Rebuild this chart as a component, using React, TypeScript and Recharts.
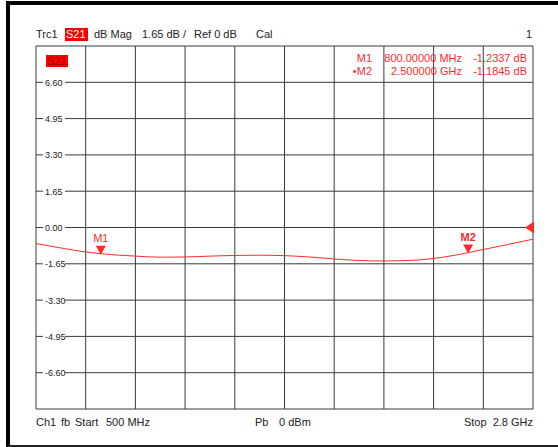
import React from 'react';
import { LineChart, Line, XAxis, YAxis, ReferenceLine, ReferenceDot } from 'recharts';

const freqMHz = [500, 615, 730, 845, 960, 1075, 1190, 1305, 1420, 1535, 1650, 1765, 1880, 1995, 2110, 2225, 2340, 2455, 2570, 2685, 2800];
const s21dB = [-0.73, -0.93, -1.11, -1.23, -1.3, -1.35, -1.34, -1.3, -1.27, -1.26, -1.28, -1.34, -1.43, -1.5, -1.52, -1.5, -1.41, -1.23, -1.0, -0.77, -0.53];

const xTicks = [500, 730, 960, 1190, 1420, 1650, 1880, 2110, 2340, 2570, 2800];
const yTicks = [-8.25, -6.6, -4.95, -3.3, -1.65, 0, 1.65, 3.3, 4.95, 6.6, 8.25];
const yLabels = [-6.6, -4.95, -3.3, -1.65, 0, 1.65, 3.3, 4.95, 6.6];

const markerNames = ['M1', 'M2'];
const markerFreqMHz = [800, 2500];
const markerValues = [-1.2337, -1.1845];
const markerFreqText = ['800.00000 MHz', '2.500000 GHz'];

const refLevel = 0;

const data = freqMHz.map((f, i) => ({ f, v: s21dB[i] }));

const RED = '#ff2a2a';
const TXT = '#222';
const GRID = '#3a3a3a';
const FONT = '"Liberation Sans", Arial, sans-serif';

const yLabelShape = (v: number) => (props: any) => {
  const { cx, cy } = props;
  return (
    <g>
      <rect x={cx + 7} y={cy - 5} width={22} height={10} fill="#fff" />
      <text x={cx + 9} y={cy + 3.5} fontSize={9} fontFamily={FONT} fill={TXT}>
        {v.toFixed(2)}
      </text>
    </g>
  );
};

const markerShape = (name: string, active: boolean) => (props: any) => {
  const { cx, cy } = props;
  return (
    <g>
      <polygon points={`${cx},${cy} ${cx - 5},${cy - 9} ${cx + 5},${cy - 9}`} fill={RED} />
      <text x={cx} y={cy - 13} textAnchor="middle" fontSize={11} fontFamily={FONT} fontWeight={active ? 'bold' : 'normal'} fill={RED}>
        {name}
      </text>
    </g>
  );
};

const refShape = (props: any) => {
  const { cx, cy } = props;
  return <polygon points={`${cx - 8},${cy} ${cx + 1},${cy - 6} ${cx + 1},${cy + 6}`} fill={RED} />;
};

const abs = (x: number, y: number, extra: React.CSSProperties = {}): React.CSSProperties => ({
  position: 'absolute',
  left: x,
  top: y,
  fontFamily: FONT,
  fontSize: 11,
  lineHeight: '13px',
  color: TXT,
  whiteSpace: 'nowrap',
  ...extra,
});

export default function App() {
  return (
    <div style={{ position: 'absolute', left: 0, top: 0, width: 558, height: 447, background: '#fff', overflow: 'hidden' }}>
      <div style={{ position: 'absolute', left: 6, top: 1, width: 600, height: 440, borderLeft: '4px solid #000', borderTop: '4px solid #000', borderBottom: '2px solid #222' }} />
      <div style={{ position: 'absolute', left: 0, top: 0 }}>
        <LineChart width={558} height={447} data={data} margin={{ top: 46, right: 25, bottom: 38, left: 36 }}>
          <XAxis dataKey="f" type="number" domain={[500, 2800]} ticks={xTicks} tick={false} tickLine={false} axisLine={false} height={0} />
          <YAxis type="number" domain={[-8.25, 8.25]} ticks={yTicks} tick={false} tickLine={false} axisLine={false} width={0} />
          {xTicks.map((t) => (
            <ReferenceLine key={'x' + t} x={t} stroke={GRID} strokeWidth={1} />
          ))}
          {yTicks.map((t) => (
            <ReferenceLine key={'y' + t} y={t} stroke={GRID} strokeWidth={1} />
          ))}
          {yLabels.map((v) => (
            <ReferenceDot key={v} x={500} y={v} r={0} shape={yLabelShape(v)} />
          ))}
          <Line dataKey="v" type="monotone" stroke={RED} strokeWidth={1} dot={false} isAnimationActive={false} />
          {markerNames.map((n, i) => (
            <ReferenceDot key={n} x={markerFreqMHz[i]} y={markerValues[i]} r={0} shape={markerShape(n, i === markerNames.length - 1)} />
          ))}
          <ReferenceDot x={2800} y={refLevel} r={0} shape={refShape} />
        </LineChart>
      </div>

      <div style={abs(36, 28)}>Trc1</div>
      <div style={abs(65, 28, { background: '#f00', color: '#fff', padding: '0 1px', width: 21 })}>S21</div>
      <div style={abs(94, 28)}>dB Mag</div>
      <div style={abs(142, 28)}>1.65 dB /</div>
      <div style={abs(194, 28)}>Ref 0 dB</div>
      <div style={abs(256, 28)}>Cal</div>
      <div style={abs(520, 28, { width: 12, textAlign: 'right' })}>1</div>

      <div style={abs(46, 55, { background: '#f00', color: '#900', padding: '0 1px', width: 20, lineHeight: '12px' })}>S21</div>

      {markerNames.map((n, i) => (
        <React.Fragment key={n}>
          <div style={abs(330, 52 + i * 13, { width: 42, textAlign: 'right', color: RED })}>
            {i === markerNames.length - 1 ? '\u2022' : ''}{n}
          </div>
          <div style={abs(370, 52 + i * 13, { width: 92, textAlign: 'right', color: RED })}>{markerFreqText[i]}</div>
          <div style={abs(460, 52 + i * 13, { width: 67, textAlign: 'right', color: RED })}>{markerValues[i].toFixed(4)} dB</div>
        </React.Fragment>
      ))}

      <div style={abs(36, 416)}>Ch1</div>
      <div style={abs(61, 416)}>fb</div>
      <div style={abs(75, 416)}>Start</div>
      <div style={abs(106, 416)}>500 MHz</div>
      <div style={abs(255, 416)}>Pb</div>
      <div style={abs(279, 416)}>0 dBm</div>
      <div style={abs(440, 416, { width: 93, textAlign: 'right' })}>Stop&nbsp; 2.8 GHz</div>
    </div>
  );
}
